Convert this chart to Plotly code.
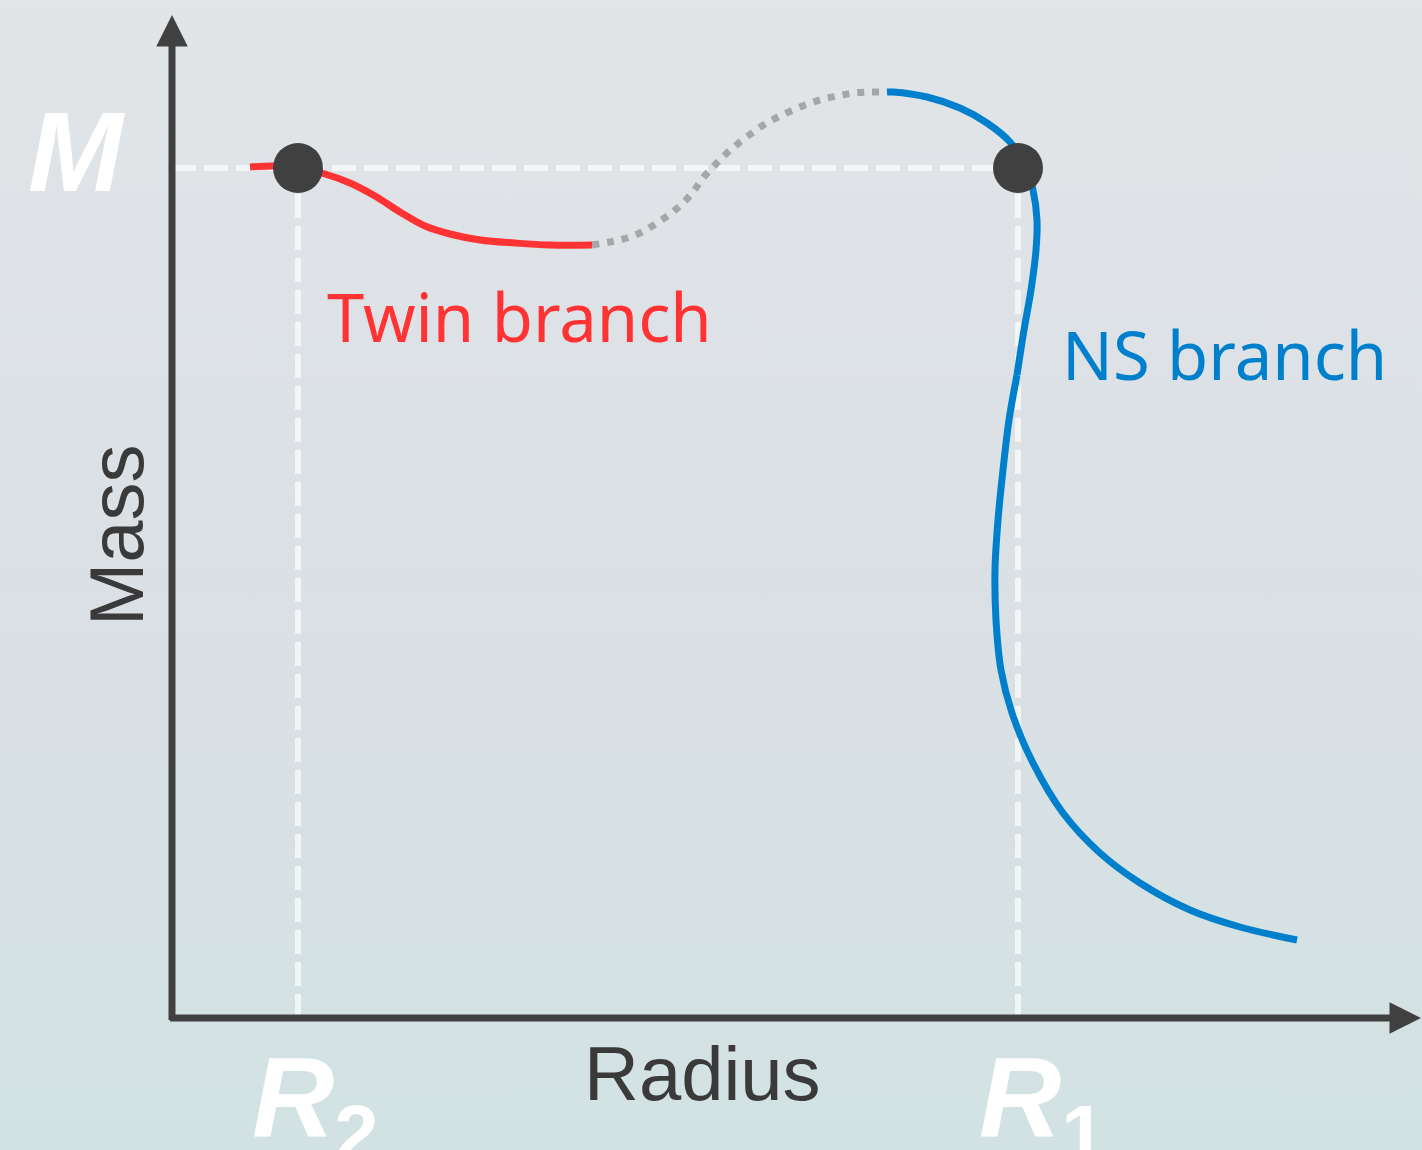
import plotly.graph_objects as go

# esquema massa-raio: ramo gemeo (twin) e ramo de estrela de neutrons (NS)
# unidades arbitrarias (raio, massa)

twin_r = [0.78, 1.03, 1.26, 1.53, 1.78, 2.03, 2.28, 2.53, 2.78, 3.08, 3.43, 3.78, 4.20]
twin_m = [8.51, 8.52, 8.50, 8.44, 8.35, 8.22, 8.06, 7.92, 7.84, 7.78, 7.75, 7.73, 7.73]

unstable_r = [4.20, 4.38, 4.55, 4.70, 4.85, 4.98, 5.10, 5.21, 5.31, 5.43, 5.55, 5.68,
              5.80, 5.93, 6.06, 6.21, 6.36, 6.51, 6.66, 6.81, 6.98, 7.15]
unstable_m = [7.73, 7.76, 7.80, 7.86, 7.95, 8.04, 8.14, 8.26, 8.40, 8.53, 8.65, 8.76,
              8.85, 8.94, 9.01, 9.08, 9.14, 9.19, 9.22, 9.25, 9.26, 9.26]

ns_top_r = [7.15, 7.21, 7.55, 7.88, 8.15, 8.38, 8.53, 8.61, 8.65, 8.64, 8.59, 8.52, 8.45]
ns_top_m = [9.26, 9.26, 9.21, 9.10, 8.95, 8.76, 8.53, 8.28, 7.98, 7.68, 7.28, 6.88, 6.43]

ns_low_r = [8.45, 8.37, 8.31, 8.26, 8.23, 8.24, 8.29, 8.40, 8.61, 8.91, 9.28, 9.68,
            10.18, 10.68, 11.25]
ns_low_m = [6.43, 5.98, 5.48, 4.98, 4.48, 3.98, 3.48, 3.05, 2.55, 2.05, 1.65, 1.35,
            1.08, 0.91, 0.78]

# pontos de mesma massa M
M = 8.50
R2 = 1.26
R1 = 8.46

faixa_x = [-1.72, 12.50]
faixa_y = [-1.32, 10.18]

cinza = '#404040'
branco = 'rgba(255,255,255,0.65)'
tracejado = '24px,8px'

fig = go.Figure()

# fundo em degrade
fig.add_trace(go.Scatter(x=[faixa_x[0], faixa_x[1], faixa_x[1], faixa_x[0]],
                         y=[faixa_y[0], faixa_y[0], faixa_y[1], faixa_y[1]],
                         mode='lines', fill='toself', line=dict(width=0),
                         fillgradient=dict(type='vertical',
                                           colorscale=[[0, '#d2e2e2'], [0.5, '#dbe0e5'],
                                                       [1, '#e1e5e8']]),
                         hoverinfo='skip'))

# linhas de referencia
fig.add_trace(go.Scatter(x=[0, R1], y=[M, M], mode='lines',
                         line=dict(color=branco, width=6, dash=tracejado)))
fig.add_trace(go.Scatter(x=[R2, R2], y=[0, M], mode='lines',
                         line=dict(color=branco, width=6, dash=tracejado)))
fig.add_trace(go.Scatter(x=[R1, R1], y=[0, M], mode='lines',
                         line=dict(color=branco, width=6, dash=tracejado)))

# curvas
fig.add_trace(go.Scatter(x=unstable_r, y=unstable_m, mode='lines',
                         line=dict(color='#a6a6a6', width=7, dash='7px,8px', shape='spline')))
fig.add_trace(go.Scatter(x=twin_r, y=twin_m, mode='lines',
                         line=dict(color='#ff3333', width=7, shape='spline')))
fig.add_trace(go.Scatter(x=ns_top_r, y=ns_top_m, mode='lines',
                         line=dict(color='#0080cc', width=7, shape='spline')))
fig.add_trace(go.Scatter(x=ns_low_r, y=ns_low_m, mode='lines',
                         line=dict(color='#0080cc', width=7, shape='spline')))

fig.add_trace(go.Scatter(x=[R2, R1], y=[M, M], mode='markers',
                         marker=dict(color=cinza, size=50)))

# eixos com setas
fig.add_annotation(x=0, y=10.03, ax=0, ay=-0.035, axref='x', ayref='y', text='',
                   showarrow=True, arrowhead=2, arrowsize=0.9, arrowwidth=7, arrowcolor=cinza)
fig.add_annotation(x=12.49, y=0, ax=-0.035, ay=0, axref='x', ayref='y', text='',
                   showarrow=True, arrowhead=2, arrowsize=0.9, arrowwidth=7, arrowcolor=cinza)

fonte_eixo = dict(family='Liberation Sans, Arial', size=76, color='#3a3a3a')
fig.add_annotation(x=5.30, y=-0.55, text='Radius', showarrow=False, font=fonte_eixo,
                   xanchor='center', yanchor='middle')
fig.add_annotation(x=-0.56, y=4.83, text='Mass', showarrow=False, font=fonte_eixo,
                   textangle=-90, xanchor='center', yanchor='middle')

fonte_simb = dict(family='Liberation Sans, Arial', size=114, color='white')
fig.add_annotation(x=-0.96, y=8.67, text='<b><i>M</i></b>', showarrow=False, font=fonte_simb,
                   xanchor='center', yanchor='middle')
fig.add_annotation(x=R2 + 0.17, y=-0.88, text='<b><i>R</i><sub>2</sub></b>', showarrow=False,
                   font=fonte_simb, xanchor='center', yanchor='middle')
fig.add_annotation(x=R1 + 0.24, y=-0.88, text='<b><i>R</i><sub>1</sub></b>', showarrow=False,
                   font=fonte_simb, xanchor='center', yanchor='middle')

fig.add_annotation(x=1.53, y=7.02, text='Twin branch', showarrow=False,
                   font=dict(family='Noto Sans', size=67, color='#ff3333'),
                   xanchor='left', yanchor='middle')
fig.add_annotation(x=8.88, y=6.64, text='NS branch', showarrow=False,
                   font=dict(family='Noto Sans', size=67, color='#0080cc'),
                   xanchor='left', yanchor='middle')

fig.update_layout(
    width=1422, height=1150,
    margin=dict(l=0, r=0, t=0, b=0),
    paper_bgcolor='#dbe2e5', plot_bgcolor='#dbe2e5',
    showlegend=False,
    xaxis=dict(range=faixa_x, visible=False, fixedrange=True),
    yaxis=dict(range=faixa_y, visible=False, fixedrange=True),
)

fig.write_html('out.html', config={'displayModeBar': False},
               post_script="document.body.style.margin='0px';")
